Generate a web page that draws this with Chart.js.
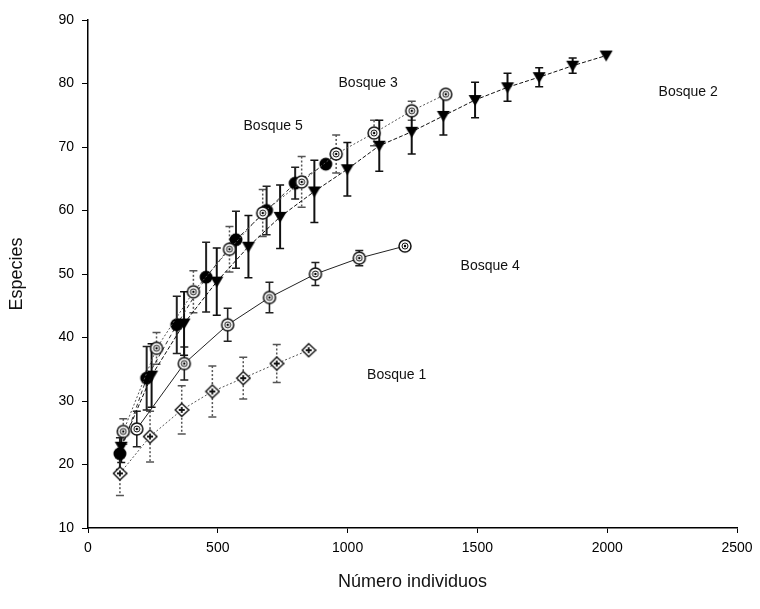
<!DOCTYPE html>
<html>
<head>
<meta charset="utf-8">
<script src="https://cdn.jsdelivr.net/npm/chart.js@4"></script>
<style>
  html, body { margin: 0; padding: 0; background: #fff; }
  #wrap { width: 760px; height: 609px; }
</style>
</head>
<body>
<div id="wrap"><canvas id="c" width="760" height="609"></canvas></div>
<script>
// rarefaction curves per forest plot: individuals vs species, +/- error
const b1X = [123, 239, 361, 479, 598, 727, 850];
const b1Y = [18.6, 24.4, 28.6, 31.5, 33.6, 35.9, 38.0];
const b1E = [3.5, 4, 3.8, 4, 3.3, 3, 0];

const b2X = [128, 245, 370, 496, 618, 740, 872, 999, 1122, 1247, 1369, 1491, 1616, 1738, 1867, 1996];
const b2Y = [22.8, 34, 42.2, 48.8, 54.3, 59.0, 63.0, 66.5, 70.2, 72.4, 74.9, 77.4, 79.4, 81.0, 82.8, 84.4];
const b2E = [2.5, 5, 5, 5.3, 4.9, 5, 4.9, 4.2, 4, 3.5, 3, 2.8, 2.2, 1.5, 1.2, 0];

const b3X = [136, 264, 406, 545, 673, 823, 956, 1102, 1247, 1378];
const b3Y = [25.2, 38.3, 47.2, 53.9, 59.6, 64.5, 68.9, 72.2, 75.7, 78.3];
const b3E = [2, 2.5, 3.3, 3.6, 3.7, 4, 3, 2, 1.5, 0];

const b4X = [188, 371, 538, 699, 876, 1045, 1221];
const b4Y = [25.6, 35.9, 42.0, 46.3, 50.0, 52.5, 54.4];
const b4E = [2.8, 2.6, 2.6, 2.4, 1.8, 1.2, 0];

const b5X = [123, 226, 342, 455, 570, 688, 798, 916];
const b5Y = [21.7, 33.6, 42.0, 49.5, 55.4, 60.0, 64.3, 67.3];
const b5E = [2.5, 5, 4.5, 5.5, 4.5, 3.8, 2.5, 0];

const labelText = ['Bosque 1', 'Bosque 2', 'Bosque 3', 'Bosque 4', 'Bosque 5'];
const labelX = [1189, 2312, 1079, 1549, 713];
const labelY = [34.1, 78.7, 80.0, 51.3, 73.3];

const xTicks = [0, 500, 1000, 1500, 2000, 2500];
const yTicks = [10, 20, 30, 40, 50, 60, 70, 80, 90];

// marker images
function mk(size, draw) {
  const cv = document.createElement('canvas');
  cv.width = size; cv.height = size;
  const g = cv.getContext('2d');
  draw(g, size / 2);
  return cv;
}
const diamond = mk(16, (g, h) => {
  g.beginPath(); g.moveTo(h, 1.5); g.lineTo(15, h); g.lineTo(h, 14.5); g.lineTo(1.5, h); g.closePath();
  g.fillStyle = '#fff'; g.fill(); g.strokeStyle = '#111'; g.lineWidth = 1.4; g.stroke();
  g.beginPath(); g.moveTo(h - 3, h); g.lineTo(h + 3, h); g.moveTo(h, h - 3); g.lineTo(h, h + 3);
  g.lineWidth = 1.8; g.stroke();
});
const ring = mk(16, (g, h) => {
  g.beginPath(); g.arc(h, h, 6, 0, Math.PI * 2);
  g.fillStyle = '#fff'; g.fill(); g.strokeStyle = '#111'; g.lineWidth = 1.5; g.stroke();
  g.beginPath(); g.arc(h, h, 3, 0, Math.PI * 2); g.lineWidth = 1; g.stroke();
  g.beginPath(); g.arc(h, h, 1.2, 0, Math.PI * 2); g.fillStyle = '#000'; g.fill();
});
const dot = mk(18, (g, h) => {
  g.beginPath(); g.arc(h, h, 6.5, 0, Math.PI * 2); g.fillStyle = '#000'; g.fill();
});
const tri = mk(16, (g, h) => {
  g.beginPath(); g.moveTo(1.5, 3); g.lineTo(14.5, 3); g.lineTo(h, 14); g.closePath();
  g.fillStyle = '#000'; g.fill();
});

const pts = (xs, ys) => xs.map((x, i) => ({ x: x, y: ys[i] }));

function series(label, xs, ys, errs, marker, lineColor, dash, barColor, barDash, barWidth) {
  return {
    label: label, data: pts(xs, ys), errs: errs,
    barColor: barColor, barDash: barDash, barWidth: barWidth,
    showLine: true, borderColor: lineColor, borderWidth: 1, borderDash: dash,
    pointStyle: marker, pointRadius: 7, pointHoverRadius: 7, tension: 0
  };
}

// vertical error bars with caps, drawn under the markers
const errorBars = {
  id: 'errorBars',
  beforeDatasetsDraw(chart) {
    const ctx = chart.ctx, ys = chart.scales.y;
    chart.data.datasets.forEach((ds, di) => {
      const meta = chart.getDatasetMeta(di);
      meta.data.forEach((el, i) => {
        const e = ds.errs[i];
        if (!e) return;
        const v = ds.data[i].y;
        const top = ys.getPixelForValue(v + e), bot = ys.getPixelForValue(v - e);
        ctx.save();
        ctx.strokeStyle = ds.barColor; ctx.lineWidth = ds.barWidth;
        ctx.setLineDash(ds.barDash);
        ctx.beginPath(); ctx.moveTo(el.x, top); ctx.lineTo(el.x, bot); ctx.stroke();
        ctx.setLineDash([]);
        ctx.lineWidth = 1.5;
        ctx.beginPath();
        ctx.moveTo(el.x - 4, top); ctx.lineTo(el.x + 4, top);
        ctx.moveTo(el.x - 4, bot); ctx.lineTo(el.x + 4, bot);
        ctx.stroke();
        ctx.restore();
      });
    });
  }
};

// series names placed in data space
const seriesLabels = {
  id: 'seriesLabels',
  afterDraw(chart) {
    const ctx = chart.ctx, xs = chart.scales.x, ys = chart.scales.y;
    ctx.save();
    ctx.font = '14px "Liberation Sans", Arial, sans-serif';
    ctx.fillStyle = '#111';
    ctx.textAlign = 'center'; ctx.textBaseline = 'middle';
    labelText.forEach((t, i) => {
      ctx.fillText(t, xs.getPixelForValue(labelX[i]), ys.getPixelForValue(labelY[i]));
    });
    ctx.restore();
  }
};

const tickFont = { family: '"Liberation Sans", Arial, sans-serif', size: 14 };
const titleFont = { family: '"Liberation Sans", Arial, sans-serif', size: 18 };

new Chart(document.getElementById('c'), {
  type: 'scatter',
  data: {
    datasets: [
      series('Bosque 1', b1X, b1Y, b1E, diamond, '#555', [2, 2], '#555', [2, 2], 1.5),
      series('Bosque 4', b4X, b4Y, b4E, ring, '#222', [], '#222', [], 1.6),
      series('Bosque 3', b3X, b3Y, b3E, ring, '#555', [2, 2], '#555', [2, 2], 1.5),
      series('Bosque 2', b2X, b2Y, b2E, tri, '#111', [4, 2], '#111', [], 2),
      series('Bosque 5', b5X, b5Y, b5E, dot, '#333', [4, 3], '#222', [], 2)
    ]
  },
  options: {
    responsive: false,
    animation: false,
    layout: { padding: { top: 20, right: 23, left: 0, bottom: 0 } },
    plugins: { legend: { display: false }, tooltip: { enabled: false } },
    scales: {
      x: {
        type: 'linear', min: 0, max: 2500,
        afterBuildTicks: s => { s.ticks = xTicks.map(v => ({ value: v })); },
        afterFit: s => { s.height = 81; },
        border: { color: '#000', width: 1.5 },
        grid: { drawOnChartArea: false, drawTicks: true, tickLength: 5, color: '#000' },
        ticks: { color: '#000', font: tickFont, padding: 7, maxRotation: 0, callback: v => String(v) },
        title: { display: true, text: 'Número individuos', color: '#111', font: titleFont,
                 padding: { top: 0, bottom: 16 } }
      },
      y: {
        type: 'linear', min: 10, max: 90,
        afterBuildTicks: s => { s.ticks = yTicks.map(v => ({ value: v })); },
        afterFit: s => { s.width = 88; },
        border: { color: '#000', width: 1.5 },
        grid: { drawOnChartArea: false, drawTicks: true, tickLength: 6, color: '#000' },
        ticks: { color: '#000', font: tickFont, padding: 8, callback: v => String(v) },
        title: { display: true, text: 'Especies', color: '#111', font: titleFont,
                 padding: { top: 6, bottom: 10 } }
      }
    }
  },
  plugins: [errorBars, seriesLabels]
});
</script>
</body>
</html>
